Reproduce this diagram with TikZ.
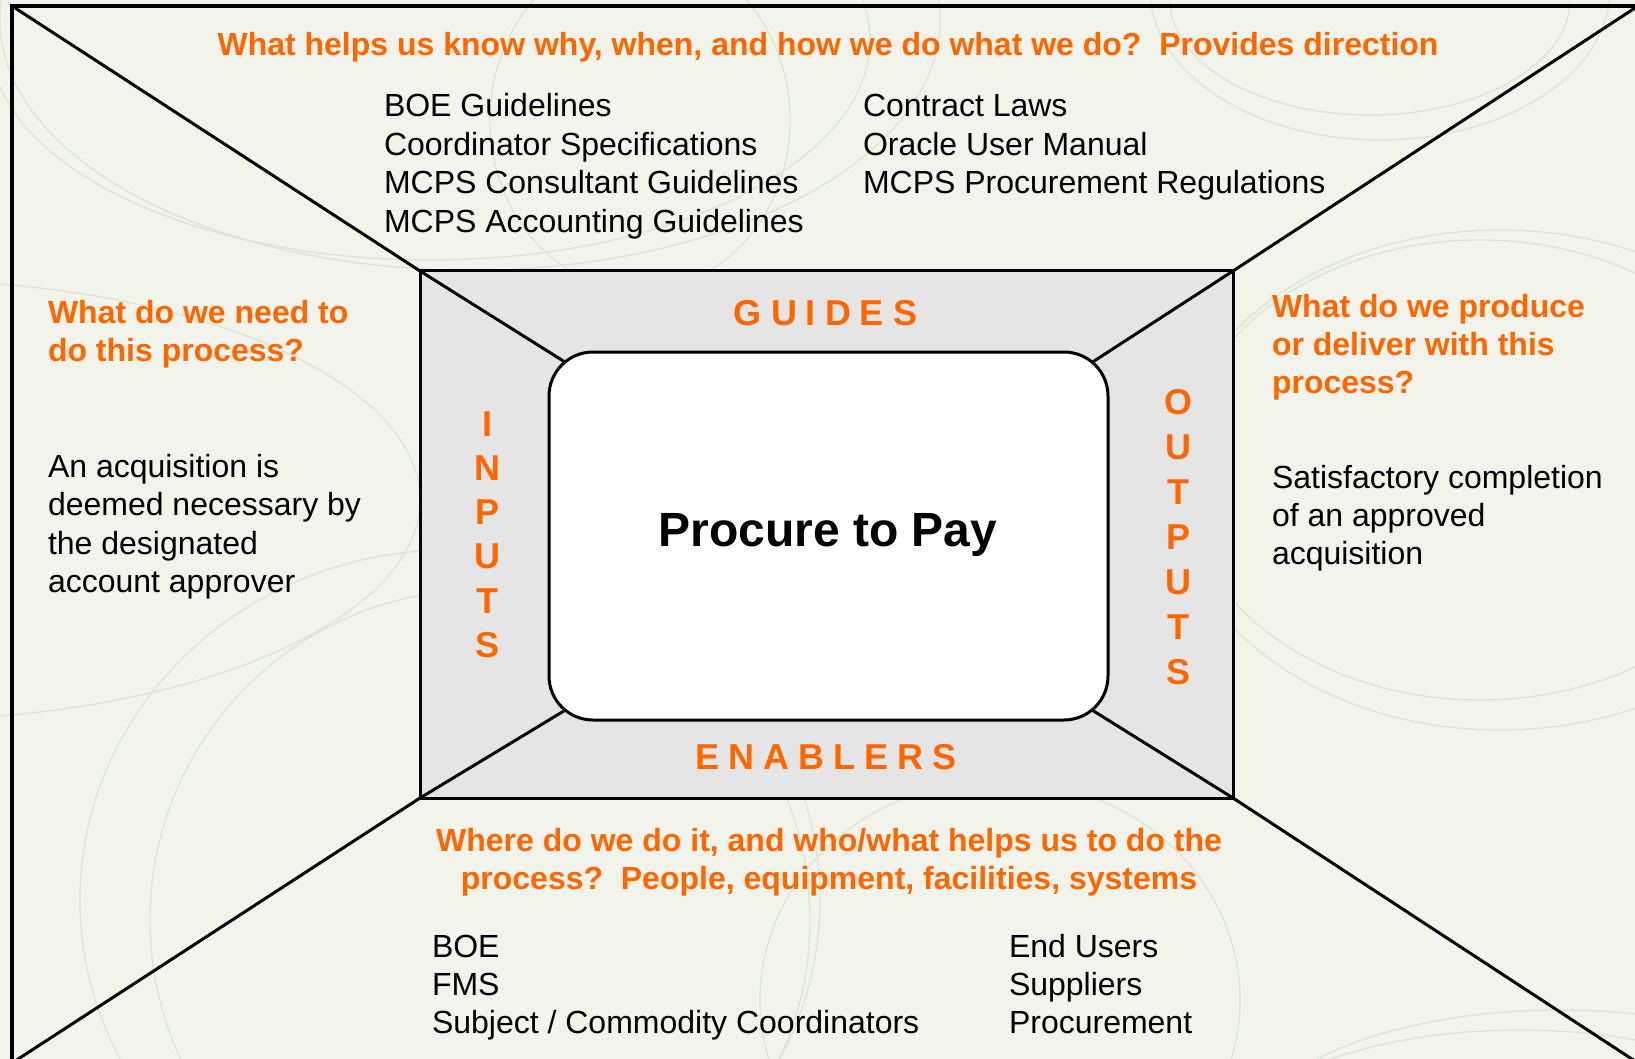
\documentclass[tikz,border=0pt]{standalone}
\usepackage{fontspec}
\setmainfont{Liberation Sans}
\usepackage{tikz}
\definecolor{paper}{HTML}{F2F3EB}
\definecolor{panel}{HTML}{E5E5E5}
\definecolor{accent}{HTML}{FF6600}
\definecolor{swirl}{HTML}{DAE6D5}
\newcommand{\bodysize}{\fontsize{32}{38.5}\selectfont}
\newcommand{\wordsize}{\fontsize{36}{36}\selectfont}

\begin{document}
\begin{tikzpicture}[x=1pt, y=-1pt,
    every node/.style={inner sep=0pt, outer sep=0pt},
    edge/.style={line width=3pt, line join=round},
    question/.style={text=accent, font=\bfseries\bodysize, anchor=base west},
    item/.style={font=\bodysize, anchor=base west},
    side word/.style={text=accent, font=\bfseries\wordsize, anchor=base},
    spaced word/.style={text=accent, font=\bfseries\wordsize\addfontfeature{LetterSpace=25}, anchor=base}]

\useasboundingbox (0,0) rectangle (1635,1059);
\clip (0,0) rectangle (1635,1059);
\fill[paper] (0,0) rectangle (1635,1059);

% Background swirls
\foreach \cx/\cy/\rx/\ry in {430/40/440/220, 470/20/470/250, 640/120/150/170,
    1370/0/200/115, 1380/-10/230/150, 1480/470/300/230, 1500/480/330/250,
    1560/1150/320/140, 1520/1160/300/130, 1000/1000/240/220,
    450/900/370/350, 480/920/330/330, -100/500/520/220}
{
    \draw[swirl, line width=1.3pt] (\cx,\cy) ellipse [x radius=\rx pt, y radius=\ry pt];
}

% Frames
\node[draw, line width=3.2pt, minimum width=1626pt, minimum height=1057pt] (outer) at (825,534.5) {};
\node[draw, fill=panel, line width=3pt, minimum width=813pt, minimum height=527pt] (frame) at (826.5,534.5) {};
\node[minimum width=559pt, minimum height=368pt] (core) at (828.5,536) {};

% Diagonals
\foreach \c in {north west, north east, south west, south east}
{
    \draw[edge, shorten >=-30pt] (outer.\c) -- (frame.\c) -- (core.\c);
}

% Process box
\draw[edge, fill=white, rounded corners=44pt] (core.north west) rectangle (core.south east);
\node[font=\bfseries\fontsize{48}{48}\selectfont, anchor=base] (title) at (828,546) {Procure to Pay};

% Guides
\node[question, anchor=base] (guides-q) at (828,55.5)
    {What helps us know why, when, and how we do what we do?~\ Provides direction};
\foreach \t [count=\i] in {BOE Guidelines, Coordinator Specifications,
    MCPS Consultant Guidelines, MCPS Accounting Guidelines}
{
    \node[item] (guide-l\i) at (384, 117+38.5*\i-38.5) {\t};
}
\foreach \t [count=\i] in {Contract Laws, Oracle User Manual, MCPS Procurement Regulations}
{
    \node[item] (guide-r\i) at (863, 117+38.5*\i-38.5) {\t};
}
\node[spaced word] (guides) at (825.5,325) {GUIDES};

% Inputs
\foreach \t [count=\i] in {What do we need to, do this process?}
{
    \node[question] (input-q\i) at (48, 323.5+38.3*\i-38.3) {\t};
}
\foreach \t [count=\i] in {An acquisition is, deemed necessary by, the designated, account approver}
{
    \node[item] (input-t\i) at (48, 477+38.5*\i-38.5) {\t};
}
\foreach \l [count=\i] in {I,N,P,U,T,S}
{
    \node[side word] (input-\i) at (487, 436+44.3*\i-44.3) {\l};
}

% Outputs
\foreach \t [count=\i] in {What do we produce, or deliver with this, process?}
{
    \node[question] (output-q\i) at (1272, 317+38*\i-38) {\t};
}
\foreach \t [count=\i] in {Satisfactory completion, of an approved, acquisition}
{
    \node[item] (output-t\i) at (1272, 488.5+38*\i-38) {\t};
}
\foreach \l [count=\i] in {O,U,T,P,U,T,S}
{
    \node[side word] (output-\i) at (1178, 414.3+45*\i-45) {\l};
}

% Enablers
\node[spaced word] (enablers) at (826,769) {ENABLERS};
\foreach \t [count=\i] in {{Where do we do it, and who/what helps us to do the},
    {process?~\ People, equipment, facilities, systems}}
{
    \node[question, anchor=base] (enabler-q\i) at (829, 851.5+38*\i-38) {\t};
}
\foreach \t [count=\i] in {BOE, FMS, Subject / Commodity Coordinators}
{
    \node[item] (enabler-l\i) at (432, 957+38.3*\i-38.3) {\t};
}
\foreach \t [count=\i] in {End Users, Suppliers, Procurement}
{
    \node[item] (enabler-r\i) at (1009, 957+38.3*\i-38.3) {\t};
}

\end{tikzpicture}
\end{document}
